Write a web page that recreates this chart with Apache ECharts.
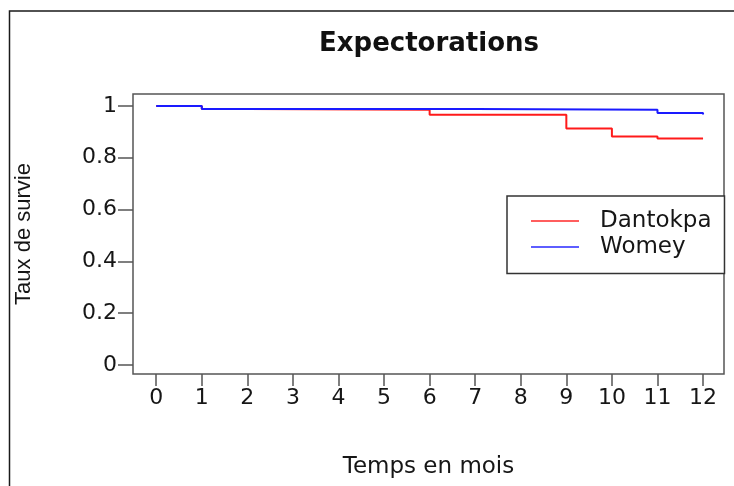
<!DOCTYPE html>
<html>
<head>
<meta charset="utf-8">
<title>Expectorations</title>
<style>
  html, body { margin: 0; padding: 0; background: #fff; }
  #chart { width: 734px; height: 486px; }
</style>
<script src="https://cdn.jsdelivr.net/npm/echarts@6/dist/echarts.min.js"></script>
</head>
<body>
<div id="chart"></div>
<script>
// Kaplan–Meier survival steps, time in months
const months = [0, 1, 2, 3, 4, 5, 6, 7, 8, 9, 10, 11, 12];
const survivalTicks = [0, 0.2, 0.4, 0.6, 0.8, 1];

const dantokpaTimes = [0, 1, 2, 6, 9, 10, 11, 12];
const dantokpaSurvival = [1, 0.988, 0.985, 0.966, 0.913, 0.882, 0.874, 0.874];

const womeyTimes = [0, 1, 7, 11, 12];
const womeySurvival = [1, 0.988, 0.985, 0.973, 0.967];

const seriesNames = ['Dantokpa', 'Womey'];

const toPairs = (times, values) => times.map((t, i) => [t, values[i]]);

const axisGray = '#555';
const textColor = '#161616';
const tickFont = 'DejaVu Sans';

const chart = echarts.init(document.getElementById('chart'), null, { renderer: 'canvas' });

chart.setOption({
  backgroundColor: '#fff',
  animation: false,
  graphic: [
    {
      type: 'polyline',
      silent: true,
      shape: { points: [[9.5, 486], [9.5, 11], [734, 11]] },
      style: { stroke: '#1a1a1a', lineWidth: 1.5, fill: 'none' }
    },
    {
      type: 'text',
      silent: true,
      x: 429,
      y: 44,
      style: {
        text: 'Expectorations',
        font: 'bold 26px "DejaVu Sans"',
        fill: '#111',
        align: 'center',
        verticalAlign: 'middle'
      }
    }
  ],
  grid: {
    left: 133,
    top: 94,
    width: 591,
    height: 280,
    show: true,
    borderColor: axisGray,
    borderWidth: 1.5,
    backgroundColor: 'transparent',
    outerBoundsMode: 'none',
    containLabel: false
  },
  xAxis: {
    type: 'value',
    min: -0.51,
    max: 12.46,
    axisLine: { show: false, onZero: false },
    splitLine: { show: false },
    axisTick: {
      show: true,
      length: 12,
      customValues: months,
      lineStyle: { color: axisGray, width: 1.5 }
    },
    axisLabel: {
      customValues: months,
      margin: 13,
      fontFamily: tickFont,
      fontSize: 22,
      color: textColor
    },
    name: 'Temps en mois',
    nameLocation: 'middle',
    nameGap: 82,
    nameTextStyle: { fontFamily: tickFont, fontSize: 23, color: textColor }
  },
  yAxis: {
    type: 'value',
    min: -0.035,
    max: 1.0463,
    axisLine: { show: false, onZero: false },
    splitLine: { show: false },
    axisTick: {
      show: true,
      length: 15,
      customValues: survivalTicks,
      lineStyle: { color: axisGray, width: 1.5 }
    },
    axisLabel: {
      customValues: survivalTicks,
      margin: 16,
      fontFamily: tickFont,
      fontSize: 22,
      color: textColor
    },
    name: 'Taux de survie',
    nameLocation: 'middle',
    nameGap: 98,
    nameTextStyle: { fontFamily: 'Liberation Sans', fontSize: 22, color: textColor }
  },
  legend: {
    orient: 'vertical',
    left: 507,
    top: 196,
    data: seriesNames,
    icon: 'rect',
    itemWidth: 48,
    itemHeight: 2,
    itemGap: 3,
    padding: [13.5, 13, 15, 24],
    borderColor: '#333',
    borderWidth: 1.5,
    borderRadius: 0,
    backgroundColor: '#fff',
    selectedMode: false,
    itemStyle: { opacity: 0.7 },
    textStyle: {
      fontFamily: tickFont,
      fontSize: 23,
      lineHeight: 23,
      color: textColor,
      padding: [0, 0, 0, 16]
    }
  },
  series: [
    {
      name: seriesNames[0],
      type: 'line',
      step: 'end',
      data: toPairs(dantokpaTimes, dantokpaSurvival),
      symbol: 'none',
      showSymbol: false,
      color: '#ff1a1a',
      lineStyle: { color: '#ff1a1a', width: 2 }
    },
    {
      name: seriesNames[1],
      type: 'line',
      step: 'end',
      data: toPairs(womeyTimes, womeySurvival),
      symbol: 'none',
      showSymbol: false,
      color: '#1a1aff',
      lineStyle: { color: '#1a1aff', width: 2 }
    }
  ]
});
</script>
</body>
</html>
